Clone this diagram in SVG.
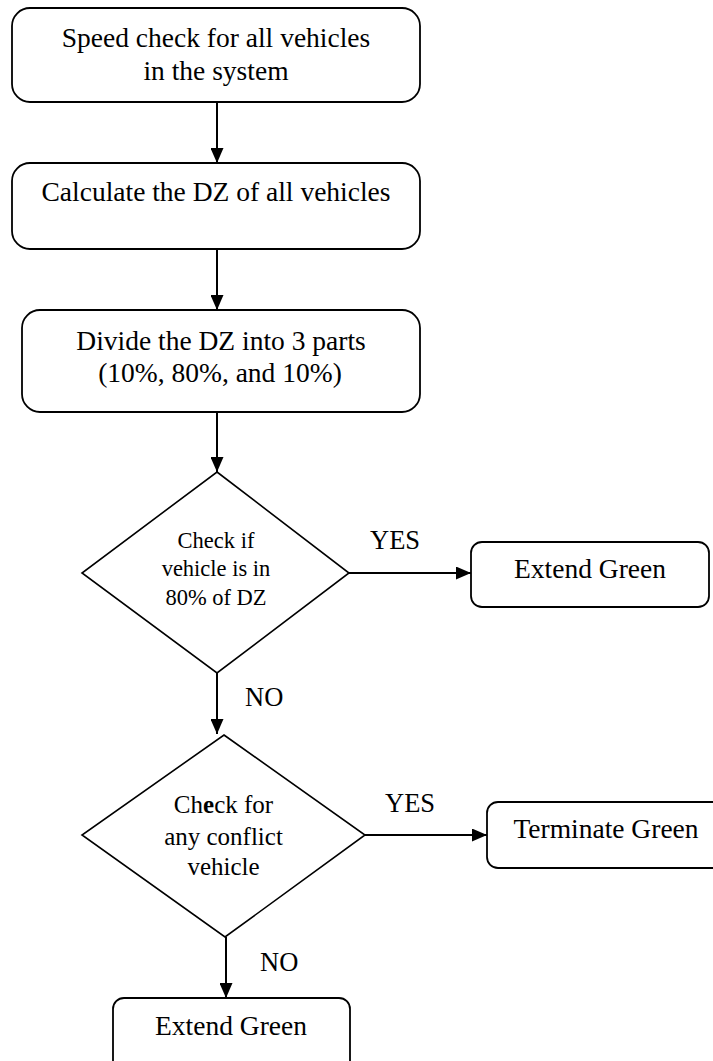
<svg xmlns="http://www.w3.org/2000/svg" width="713" height="1061" viewBox="0 0 713 1061">
<style>
.box{fill:#fff;stroke:#000;stroke-width:1.8}
.dia{fill:#fff;stroke:#000;stroke-width:1.6}
.edge{fill:none;stroke:#000;stroke-width:2}
text{font-family:"Liberation Serif","Times New Roman",serif;fill:#000}
.t{font-size:27.5px;text-anchor:middle}
.d1{font-size:22.5px;text-anchor:middle}
.d2{font-size:25px;text-anchor:middle}
.lbl{font-size:26.5px}
</style>
<defs>
<marker id="ah" viewBox="0 0 15 13" refX="15" refY="6.5" markerWidth="15" markerHeight="13" markerUnits="userSpaceOnUse" orient="auto">
<path d="M0,0 L15,6.5 L0,13 Z" fill="#000"/>
</marker>
</defs>
<g id="connectors">
<line class="edge" x1="217" y1="102" x2="217" y2="163" marker-end="url(#ah)"/>
<line class="edge" x1="217" y1="249" x2="217" y2="310" marker-end="url(#ah)"/>
<line class="edge" x1="217" y1="412" x2="217" y2="472" marker-end="url(#ah)"/>
<line class="edge" x1="349" y1="573" x2="471" y2="573" marker-end="url(#ah)"/>
<text class="lbl" x="370" y="549">YES</text>
<line class="edge" x1="217" y1="673" x2="217" y2="734" marker-end="url(#ah)"/>
<text class="lbl" x="245" y="706">NO</text>
<line class="edge" x1="365" y1="835" x2="487" y2="835" marker-end="url(#ah)"/>
<text class="lbl" x="385" y="812">YES</text>
<line class="edge" x1="226" y1="937" x2="226" y2="998" marker-end="url(#ah)"/>
<text class="lbl" x="260" y="971">NO</text>
</g>
<g id="speed-check">
<rect class="box" x="12" y="8" width="408" height="94" rx="18"/>
<text class="t" x="216" y="47">Speed check for all vehicles</text>
<text class="t" x="216" y="80">in the system</text>
</g>
<g id="calculate-dz">
<rect class="box" x="12" y="163" width="408" height="86" rx="18"/>
<text class="t" x="216" y="201">Calculate the DZ of all vehicles</text>
</g>
<g id="divide-dz">
<rect class="box" x="22" y="310" width="398" height="102" rx="18"/>
<text class="t" x="221" y="350">Divide the DZ into 3 parts</text>
<text class="t" x="220" y="382">(10%, 80%, and 10%)</text>
</g>
<g id="check-80">
<polygon class="dia" points="217,472 349,573 217,673 82,573"/>
<text class="d1" x="216" y="548">Check if</text>
<text class="d1" x="216" y="576">vehicle is in</text>
<text class="d1" x="216" y="605">80% of DZ</text>
</g>
<g id="extend-green-1">
<rect class="box" x="471" y="542" width="238" height="65" rx="11"/>
<text class="t" x="590" y="578">Extend Green</text>
</g>
<g id="check-conflict">
<polygon class="dia" points="224,735 365,835 225,937 82,835"/>
<text class="d2" x="223.5" y="813">Ch<tspan font-weight="bold">e</tspan>ck for</text>
<text class="d2" x="223.5" y="845">any conflict</text>
<text class="d2" x="223.5" y="875">vehicle</text>
</g>
<g id="terminate-green">
<rect class="box" x="487" y="802" width="250" height="66" rx="11"/>
<text class="t" x="606" y="838">Terminate Green</text>
</g>
<g id="extend-green-2">
<rect class="box" x="113" y="998" width="237" height="80" rx="11"/>
<text class="t" x="231" y="1035">Extend Green</text>
</g>
</svg>
